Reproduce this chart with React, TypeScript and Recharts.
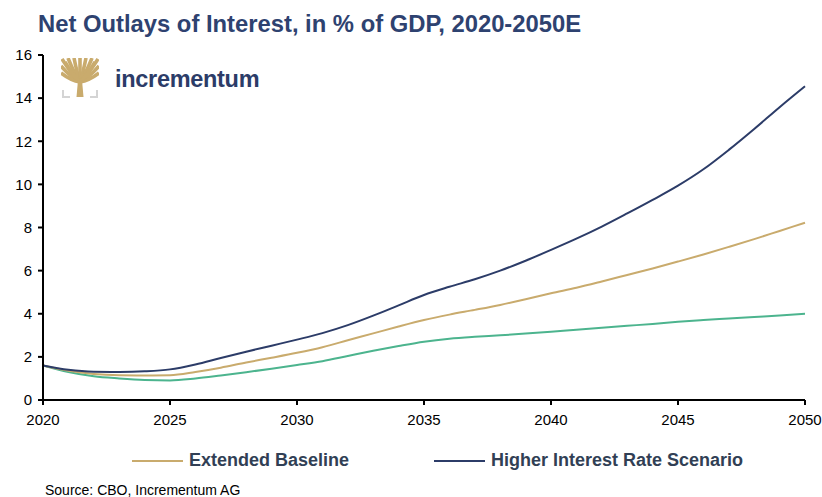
import { LineChart, Line, XAxis, YAxis } from 'recharts'

const years = [
  2020, 2021, 2022, 2023, 2024, 2025, 2026, 2027, 2028, 2029, 2030, 2031, 2032, 2033, 2034, 2035,
  2036, 2037, 2038, 2039, 2040, 2041, 2042, 2043, 2044, 2045, 2046, 2047, 2048, 2049, 2050,
]

// Extended Baseline
const baseline = [
  1.6, 1.36, 1.21, 1.15, 1.14, 1.15, 1.3, 1.5, 1.74, 1.96, 2.19, 2.45, 2.77, 3.09, 3.41, 3.71,
  3.96, 4.18, 4.41, 4.67, 4.95, 5.21, 5.5, 5.8, 6.1, 6.42, 6.75, 7.1, 7.46, 7.84, 8.22,
]

// Higher Interest Rate Scenario
const higherRate = [
  1.6, 1.4, 1.31, 1.3, 1.33, 1.42, 1.65, 1.95, 2.24, 2.52, 2.8, 3.1, 3.47, 3.91, 4.39, 4.87,
  5.25, 5.6, 6.0, 6.46, 6.96, 7.48, 8.04, 8.65, 9.28, 9.94, 10.7, 11.6, 12.57, 13.58, 14.55,
]

// third scenario (no legend entry)
const lowerRate = [
  1.6, 1.3, 1.1, 1.0, 0.93, 0.91, 1.0, 1.14, 1.29, 1.45, 1.62, 1.8, 2.04, 2.28, 2.5, 2.7,
  2.84, 2.93, 3.0, 3.08, 3.17, 3.26, 3.35, 3.44, 3.53, 3.63, 3.71, 3.78, 3.85, 3.92, 4.0,
]

const xTicks = [2020, 2025, 2030, 2035, 2040, 2045, 2050]
const yTicks = [0, 2, 4, 6, 8, 10, 12, 14, 16]

const NAVY = '#2c3c68'
const GOLD = '#c9ab6d'
const GREEN = '#4cb48e'
const FONT = '"Liberation Sans", Arial, sans-serif'

const data = years.map((year, i) => ({
  year,
  baseline: baseline[i],
  higherRate: higherRate[i],
  lowerRate: lowerRate[i],
}))

const branchEnds = [
  [1, 1], [7, 0], [13, 0], [19, 0], [25, 0], [31, 0], [37, 1],
  [0, 8], [38, 8], [0, 15], [38, 15], [4, 4], [34, 4],
]

function Logo() {
  return (
    <div style={{ position: 'absolute', left: 61, top: 58, display: 'flex', alignItems: 'center' }}>
      <svg width={38} height={40} viewBox="0 0 38 40">
        <g stroke={GOLD} strokeWidth={3.6} fill="none">
          {branchEnds.map(([x, y], i) => (
            <path key={i} d={`M19 24 Q${(19 + x) / 2} ${(24 + y) / 2 + 3} ${x} ${y}`} />
          ))}
        </g>
        <path d="M15.5 39 L17 22 L21 22 L22.5 39 Z" fill={GOLD} />
        <g fill="none" stroke="#d4d4d4" strokeWidth={2}>
          <path d="M2 32 L2 39 L9 39" />
          <path d="M36 32 L36 39 L29 39" />
        </g>
      </svg>
      <span style={{ marginLeft: 16, marginTop: 2, fontFamily: FONT, fontWeight: 'bold', fontSize: 23.5, color: NAVY, letterSpacing: -0.3 }}>
        incrementum
      </span>
    </div>
  )
}

function LegendItem({ color, label, left }: { color: string; label: string; left: number }) {
  return (
    <div style={{ position: 'absolute', left, top: 450, display: 'flex', alignItems: 'center' }}>
      <div style={{ width: 51, height: 2, background: color }} />
      <span style={{ marginLeft: 6, fontFamily: FONT, fontWeight: 'bold', fontSize: 18, color: '#313f55' }}>{label}</span>
    </div>
  )
}

export default function App() {
  return (
    <div style={{ position: 'absolute', left: 0, top: 0, width: 822, height: 497, background: '#fff', overflow: 'hidden' }}>
      <div style={{ position: 'absolute', left: 38, top: 10, fontFamily: FONT, fontWeight: 'bold', fontSize: 23.8, color: '#2e4270' }}>
        Net Outlays of Interest, in % of GDP, 2020-2050E
      </div>
      <LineChart width={822} height={497} data={data} margin={{ top: 55, right: 17, bottom: 67, left: 0 }}>
        <XAxis
          dataKey="year"
          type="number"
          domain={[2020, 2050]}
          ticks={xTicks}
          tickSize={5}
          tickMargin={9}
          height={30}
          axisLine={{ stroke: '#000', strokeWidth: 2 }}
          tickLine={{ stroke: '#000', strokeWidth: 2 }}
          tick={{ fill: '#000', fontSize: 15, fontFamily: FONT }}
        />
        <YAxis
          domain={[0, 16]}
          ticks={yTicks}
          width={43}
          tickSize={5}
          tickMargin={6}
          axisLine={{ stroke: '#000', strokeWidth: 2 }}
          tickLine={{ stroke: '#000', strokeWidth: 2 }}
          tick={{ fill: '#000', fontSize: 15, fontFamily: FONT }}
        />
        <Line type="monotone" dataKey="lowerRate" stroke={GREEN} strokeWidth={2} dot={false} isAnimationActive={false} />
        <Line type="monotone" dataKey="baseline" stroke={GOLD} strokeWidth={2} dot={false} isAnimationActive={false} />
        <Line type="monotone" dataKey="higherRate" stroke={NAVY} strokeWidth={2} dot={false} isAnimationActive={false} />
      </LineChart>
      <Logo />
      <LegendItem color={GOLD} label="Extended Baseline" left={132} />
      <LegendItem color={NAVY} label="Higher Interest Rate Scenario" left={434} />
      <div style={{ position: 'absolute', left: 45, top: 482, fontFamily: FONT, fontSize: 14, color: '#000' }}>
        Source: CBO, Incrementum AG
      </div>
    </div>
  )
}
